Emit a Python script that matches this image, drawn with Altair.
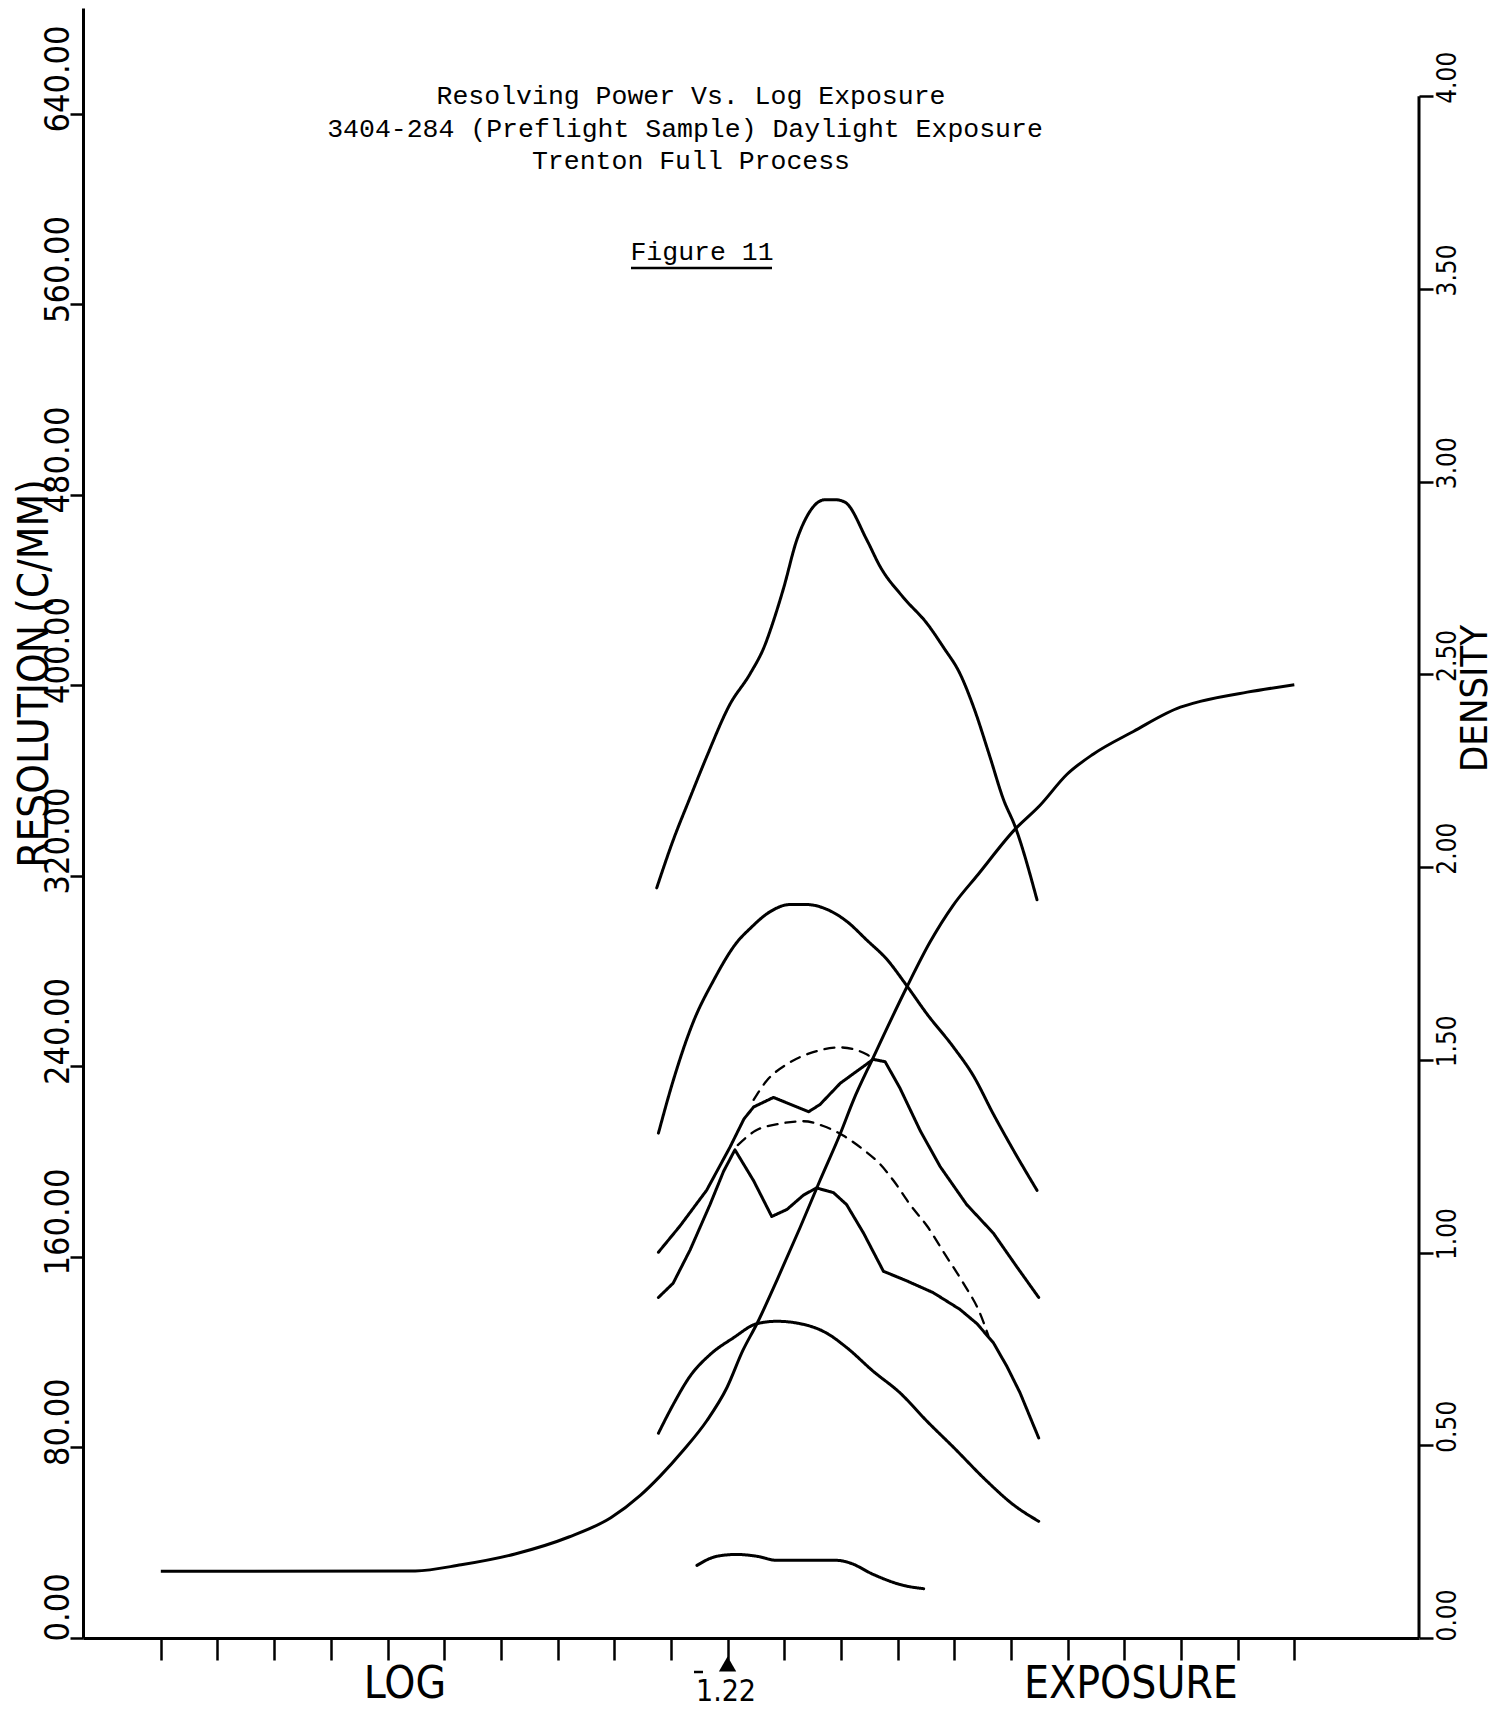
import altair as alt
import pandas as pd

# ---------------- data ----------------
# x = log-exposure step (tick index 0..20, tick 10 is the 1̄.22 mark)
# Resolving power curves (C/MM, left axis)
tA = [8.75, 9.04, 9.34, 9.63, 10.04, 10.40, 10.66, 10.78, 10.99, 11.22, 11.40, 11.72, 11.90,
      12.07, 12.46, 12.69, 13.10, 13.52, 13.81, 14.10, 14.34, 14.63, 14.87, 15.07, 15.46]
rA = [315, 335, 353, 370, 392, 405, 417, 425, 441, 461, 471, 478, 478,
      477, 461, 450, 437, 426, 416, 405, 391, 370, 352, 341, 310]

tB = [8.78, 9.04, 9.40, 9.75, 10.16, 10.40, 10.75, 11.10, 11.40, 11.75, 12.10, 12.46, 12.81,
      13.16, 13.52, 13.99, 14.34, 14.69, 15.04, 15.46]
rB = [212, 234, 259, 276, 292, 298, 305, 308, 308, 306, 301, 293, 285,
      274, 262, 248, 236, 220, 205, 188]

tC1 = [8.78, 9.16, 9.63, 10.04, 10.29, 10.46, 10.81, 11.43, 11.63, 11.99, 12.28, 12.57, 12.78,
       13.04, 13.40, 13.75, 14.22, 14.69, 15.10, 15.49]
rC1 = [162, 173, 188, 206, 218, 223, 227, 221, 224, 233, 238, 243, 242,
       231, 213, 198, 182, 170, 156, 143]

tD1 = [10.46, 10.69, 11.05, 11.51, 11.99, 12.46, 12.57]
rD1 = [226, 234, 241, 246, 248, 245, 243]

tC2 = [8.78, 9.04, 9.34, 9.69, 9.93, 10.13, 10.46, 10.78, 11.05, 11.34, 11.57, 11.87, 12.10,
       12.40, 12.75, 13.16, 13.63, 14.10, 14.40, 14.69, 14.93, 15.16, 15.49]
rC2 = [143, 149, 163, 182, 196, 205, 192, 177, 180, 186, 189, 187, 182,
       170, 154, 150, 145, 138, 132, 124, 114, 103, 84]

tD2 = [10.18, 10.49, 10.93, 11.34, 11.69, 12.04, 12.40, 12.69, 12.93, 13.22, 13.52, 13.84,
       14.16, 14.46, 14.60]
rD2 = [207, 213, 216, 217, 215, 211, 205, 199, 192, 182, 173, 161, 149, 136, 127]

tE = [8.78, 9.04, 9.34, 9.69, 10.10, 10.52, 10.87, 11.28, 11.75, 12.10, 12.57, 13.04, 13.52,
      13.99, 14.57, 15.04, 15.49]
rE = [86, 98, 110, 119, 126, 132, 133, 132, 128, 122, 112, 103, 91, 80, 66, 56, 49]

tF = [9.46, 9.81, 10.16, 10.52, 10.87, 11.40, 11.93, 12.16, 12.57, 13.10, 13.46]
rF = [30.5, 34.3, 35.1, 34.3, 32.6, 32.6, 32.6, 31.5, 26.7, 22.1, 20.7]

# Density curve (right axis)
tDen = [0.0, 4.49, 5.30, 6.25, 7.20, 7.94, 8.46, 8.81, 9.22, 9.64, 9.99, 10.27, 10.52, 10.87,
        11.28, 11.63, 11.99, 12.22, 12.57, 13.17, 13.57, 13.98, 14.42, 15.07, 15.51, 15.99,
        16.45, 17.16, 17.99, 18.34, 19.17, 20.0]
dDen = [0.173, 0.174, 0.190, 0.218, 0.262, 0.312, 0.370, 0.420, 0.487, 0.565, 0.650, 0.746,
        0.816, 0.928, 1.065, 1.187, 1.309, 1.395, 1.506, 1.691, 1.805, 1.901, 1.981, 2.098,
        2.160, 2.241, 2.293, 2.352, 2.415, 2.430, 2.454, 2.473]

x_ticks = list(range(21))
res_ticks = [0, 80, 160, 240, 320, 400, 480, 560, 640]
den_ticks = [0, 0.5, 1.0, 1.5, 2.0, 2.5, 3.0, 3.5, 4.0]
marker_step = [10]
marker_label = "1.22"
title_lines = ["Resolving Power Vs. Log Exposure",
               "3404-284 (Preflight Sample) Daylight Exposure",
               "Trenton Full Process"]
figure_label = "Figure 11"

# ---------------- build tables ----------------
curves = [("A", tA, rA, "solid", "smooth"), ("B", tB, rB, "solid", "smooth"),
          ("C1", tC1, rC1, "solid", "kinked"), ("D1", tD1, rD1, "dashed", "smooth"),
          ("C2", tC2, rC2, "solid", "kinked"), ("D2", tD2, rD2, "dashed", "smooth"),
          ("E", tE, rE, "solid", "smooth"), ("F", tF, rF, "solid", "smooth")]
rows = []
for name, ts, rs, style, shape in curves:
    for t, r in zip(ts, rs):
        rows.append({"curve": name, "t": t, "r": r, "style": style, "shape": shape})
rp_df = pd.DataFrame(rows)
den_df = pd.DataFrame({"t": tDen, "d": dDen})

# ---------------- layout ----------------
W, H = 1336, 1630
X_DOM = [-1.373, 22.20]
R_MAX = 684.5
D_MAX = 4.229
PF = "Liberation Sans Narrow, DejaVu Sans Condensed, Liberation Sans, sans-serif"
TF = "Liberation Mono"

xscale = alt.Scale(domain=X_DOM, nice=False, zero=False)
rscale = alt.Scale(domain=[0, R_MAX], nice=False, zero=False)
x_axis = alt.Axis(orient="bottom", values=x_ticks, labels=False, title=None, grid=False,
                  tickSize=22, tickWidth=2.5, tickColor="black",
                  domainColor="black", domainWidth=3)

left_axis = alt.Axis(
    orient="left", values=res_ticks, format=".2f", grid=False,
    labelAngle=270, labelAlign="left", labelBaseline="alphabetic",
    labelOffset={"condition": {"test": "datum.value == 0", "value": 3}, "value": 18},
    labelPadding=2, labelFont=PF, labelFontSize=34, labelColor="black",
    labelOverlap=False, labelFlush=False,
    tickSize=13, tickWidth=2.5, tickColor="black", domainWidth=3, domainColor="black",
    title="RESOLUTION  (C/MM)", titleAngle=270, titleAlign="center",
    titleBaseline="alphabetic", titleX=-36, titleY=665, titleFont=PF,
    titleFontSize=42, titleFontWeight="normal", titleColor="black")

dscale = alt.Scale(domain=[0, D_MAX], nice=False, zero=False)
right_axis = alt.Axis(
    orient="right", values=den_ticks, format=".2f", grid=False,
    labelAngle=270, labelAlign="left", labelBaseline="top",
    labelOffset={"condition": {"test": "datum.value == 0", "value": 3}, "value": 7},
    labelPadding=1, labelFont=PF, labelFontSize=26, labelColor="black",
    labelOverlap=False, labelFlush=False,
    tickSize=14, tickWidth=2.5, tickColor="black", domain=False,
    title="DENSITY", titleAngle=270, titleAlign="center", titleBaseline="top",
    titleX=37, titleY=690, titleFont=PF, titleFontSize=38,
    titleFontWeight="normal", titleColor="black")

stroke_dash = alt.StrokeDash("style:N", scale=alt.Scale(domain=["solid", "dashed"],
                                                        range=[[1, 0], [10, 8]]), legend=None)
stroke_w = alt.StrokeWidth("style:N", scale=alt.Scale(domain=["solid", "dashed"],
                                                      range=[3, 2.3]), legend=None)

rp_smooth = alt.Chart(rp_df).transform_filter(alt.datum.shape == "smooth").mark_line(
    color="black", strokeCap="round", strokeJoin="round", interpolate="monotone").encode(
    x=alt.X("t:Q", scale=xscale, axis=x_axis),
    y=alt.Y("r:Q", scale=rscale, axis=left_axis),
    detail="curve:N", strokeDash=stroke_dash, strokeWidth=stroke_w,
)
rp_kinked = alt.Chart(rp_df).transform_filter(alt.datum.shape == "kinked").mark_line(
    color="black", strokeCap="round", strokeJoin="round").encode(
    x=alt.X("t:Q", scale=xscale, axis=x_axis),
    y=alt.Y("r:Q", scale=rscale, axis=left_axis),
    detail="curve:N", strokeDash=stroke_dash, strokeWidth=stroke_w,
)
rp = alt.layer(rp_smooth, rp_kinked)

den_line = alt.Chart(den_df).mark_line(color="black", strokeWidth=3, strokeJoin="round",
                                       interpolate="monotone").encode(
    x=alt.X("t:Q", scale=xscale, axis=x_axis),
    y=alt.Y("d:Q", scale=dscale, axis=right_axis),
)
den_rule = alt.Chart(pd.DataFrame({"lo": [den_ticks[0]], "hi": [den_ticks[-1]]})).mark_rule(
    color="black", strokeWidth=3).encode(
    x=alt.value(W),
    y=alt.Y("lo:Q", scale=dscale, axis=right_axis),
    y2="hi:Q",
)
den = alt.layer(den_line, den_rule)

marker = alt.Chart(pd.DataFrame({"t": marker_step})).mark_point(
    shape="triangle-up", filled=True, color="black", size=300, opacity=1).encode(
    x=alt.X("t:Q", scale=xscale, axis=x_axis),
    y=alt.value(1656),
)


def txt(s, px, py, font, size, align="center"):
    return alt.Chart(pd.DataFrame({"s": [s]})).mark_text(
        font=font, fontSize=size, align=align, baseline="alphabetic", color="black").encode(
        text="s:N", x=alt.value(px), y=alt.value(py))


texts = [
    txt(title_lines[0], 608, 96, TF, 26.5),
    txt(title_lines[1], 602, 129, TF, 26.5),
    txt(title_lines[2], 608, 161, TF, 26.5),
    txt(figure_label, 619, 252, TF, 26.5),
    txt("LOG", 322, 1690, PF, 44),
    txt("EXPOSURE", 1048, 1690, PF, 44),
    txt(marker_label, 643, 1693, PF, 30),
]

underline = alt.Chart(pd.DataFrame({"s": [figure_label]})).mark_rule(
    color="black", strokeWidth=2.5).encode(
    x=alt.value(548), x2=alt.value(689), y=alt.value(260))
overbar = alt.Chart(pd.DataFrame({"s": [marker_label]})).mark_rule(
    color="black", strokeWidth=2.5).encode(
    x=alt.value(611), x2=alt.value(620), y=alt.value(1664))

chart = alt.layer(rp, den, marker, underline, overbar, *texts).resolve_scale(
    y="independent"
).properties(
    width=W, height=H,
    autosize=alt.AutoSizeParams(type="none"),
    padding={"left": 75, "top": 0, "right": 76, "bottom": 69},
    background="white",
).configure_view(stroke=None)

chart.save("out.html", embed_options={"renderer": "svg", "actions": False})
